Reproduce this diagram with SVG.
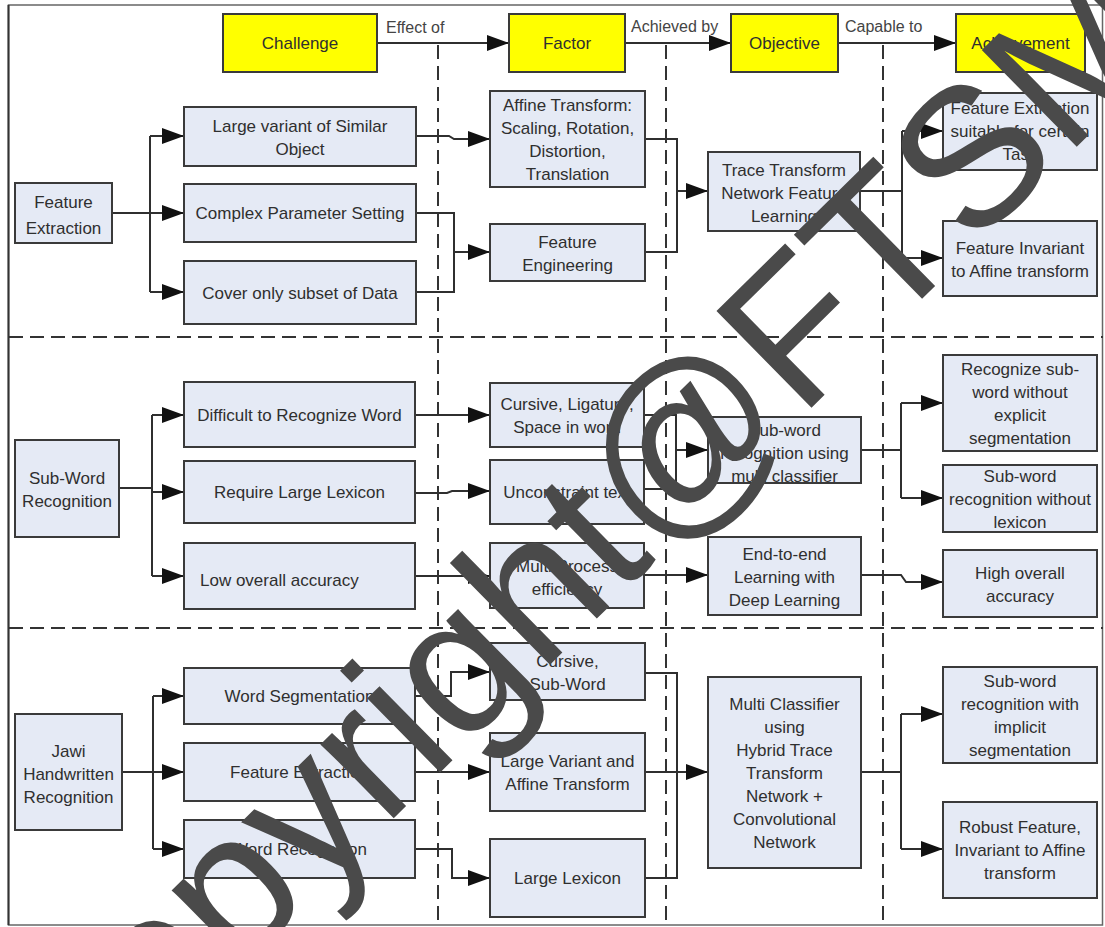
<svg xmlns="http://www.w3.org/2000/svg" width="1105" height="927" viewBox="0 0 1105 927">
<defs>
<style>
.box{fill:#e5eaf5;stroke:#3a3a3a;stroke-width:2}
.hdr{fill:#ffff00;stroke:#3a3a3a;stroke-width:2}
.t{font-family:"Liberation Sans",Arial,sans-serif;font-size:17px;fill:#2f2f2f;text-anchor:middle}
.lbl{font-family:"Liberation Sans",Arial,sans-serif;font-size:16px;fill:#444}
.c{fill:none;stroke:#2f2f2f;stroke-width:2}
.dash{fill:none;stroke:#333;stroke-width:2;stroke-dasharray:14 7}
.wm{font-family:"Liberation Sans",Arial,sans-serif;font-size:197px;fill:#4a4a4a}
</style>
<marker id="ah" markerUnits="userSpaceOnUse" markerWidth="22" markerHeight="16" refX="22" refY="8" orient="auto">
<path d="M0,0 L22,8 L0,16 z" fill="#111"/>
</marker>
</defs>
<rect x="0" y="0" width="1105" height="927" fill="#fff"/>
<rect x="8.5" y="5" width="1094" height="920" fill="none" stroke="#666" stroke-width="1.5"/>
<line x1="8.5" y1="5" x2="8.5" y2="925" stroke="#333" stroke-width="2"/>

<g id="separators">
<line class="dash" x1="438" y1="45" x2="438" y2="925"/>
<line class="dash" x1="666" y1="45" x2="666" y2="925"/>
<line class="dash" x1="883" y1="45" x2="883" y2="925"/>
<line class="dash" x1="9" y1="337" x2="1103" y2="337"/>
<line class="dash" x1="9" y1="628" x2="1103" y2="628"/>
</g>

<g id="connectors">
<line class="c" x1="377" y1="43" x2="509" y2="43" marker-end="url(#ah)"/>
<line class="c" x1="625" y1="43" x2="731" y2="43" marker-end="url(#ah)"/>
<line class="c" x1="838" y1="43" x2="956" y2="43" marker-end="url(#ah)"/>
<text class="lbl" x="386" y="33">Effect of</text>
<text class="lbl" x="631" y="32">Achieved by</text>
<text class="lbl" x="845" y="32">Capable to</text>

<path class="c" d="M112,213 H150 M150,136 V292"/>
<line class="c" x1="150" y1="136" x2="184" y2="136" marker-end="url(#ah)"/>
<line class="c" x1="150" y1="213" x2="184" y2="213" marker-end="url(#ah)"/>
<line class="c" x1="150" y1="292" x2="184" y2="292" marker-end="url(#ah)"/>
<path class="c" d="M416,136 H449 L454,139 H490" marker-end="url(#ah)"/>
<path class="c" d="M416,213 H454 V292 H416"/>
<line class="c" x1="454" y1="252" x2="490" y2="252" marker-end="url(#ah)"/>
<path class="c" d="M645,139 H677 V252 H645"/>
<line class="c" x1="677" y1="191" x2="708" y2="191" marker-end="url(#ah)"/>
<path class="c" d="M860,191 H902 M902,131 V258"/>
<line class="c" x1="902" y1="131" x2="943" y2="131" marker-end="url(#ah)"/>
<line class="c" x1="902" y1="258" x2="943" y2="258" marker-end="url(#ah)"/>

<path class="c" d="M119,488 H152 M152,415 V576"/>
<line class="c" x1="152" y1="415" x2="184" y2="415" marker-end="url(#ah)"/>
<line class="c" x1="152" y1="492" x2="184" y2="492" marker-end="url(#ah)"/>
<line class="c" x1="152" y1="576" x2="184" y2="576" marker-end="url(#ah)"/>
<line class="c" x1="415" y1="415" x2="490" y2="415" marker-end="url(#ah)"/>
<path class="c" d="M415,493 H447 L452,491 H490" marker-end="url(#ah)"/>
<line class="c" x1="415" y1="576" x2="490" y2="576" marker-end="url(#ah)"/>
<path class="c" d="M644,415 H676 V489 H644"/>
<line class="c" x1="676" y1="450" x2="708" y2="450" marker-end="url(#ah)"/>
<line class="c" x1="644" y1="575" x2="708" y2="575" marker-end="url(#ah)"/>
<path class="c" d="M861,450 H901 M901,403 V498"/>
<line class="c" x1="901" y1="403" x2="943" y2="403" marker-end="url(#ah)"/>
<line class="c" x1="901" y1="498" x2="943" y2="498" marker-end="url(#ah)"/>
<path class="c" d="M861,575 H901 L906,582 H943" marker-end="url(#ah)"/>

<path class="c" d="M122,772 H153 M153,696 V849"/>
<line class="c" x1="153" y1="696" x2="184" y2="696" marker-end="url(#ah)"/>
<line class="c" x1="153" y1="772" x2="184" y2="772" marker-end="url(#ah)"/>
<line class="c" x1="153" y1="849" x2="184" y2="849" marker-end="url(#ah)"/>
<path class="c" d="M415,696 H451 V672 H490" marker-end="url(#ah)"/>
<line class="c" x1="415" y1="772" x2="490" y2="772" marker-end="url(#ah)"/>
<path class="c" d="M415,849 H452 V878 H490" marker-end="url(#ah)"/>
<path class="c" d="M645,673 H677 V878 H645 M645,772 H677"/>
<line class="c" x1="677" y1="772" x2="708" y2="772" marker-end="url(#ah)"/>
<path class="c" d="M861,772 H901 M901,714 V849"/>
<line class="c" x1="901" y1="714" x2="943" y2="714" marker-end="url(#ah)"/>
<line class="c" x1="901" y1="849" x2="943" y2="849" marker-end="url(#ah)"/>
</g>

<g id="h-challenge"><rect class="hdr" x="223" y="14" width="154" height="58"/><text class="t" x="300" y="49">Challenge</text></g>
<g id="h-factor"><rect class="hdr" x="509" y="14" width="116" height="58"/><text class="t" x="567" y="49">Factor</text></g>
<g id="h-objective"><rect class="hdr" x="731" y="14" width="107" height="58"/><text class="t" x="784.5" y="49">Objective</text></g>
<g id="h-achievement"><rect class="hdr" x="956" y="14" width="129" height="58"/><text class="t" x="1020.5" y="49">Achievement</text></g>

<g id="n-feature-extraction"><rect class="box" x="15" y="183" width="97" height="60"/><text class="t" x="63.5" y="208">Feature</text><text class="t" x="63.5" y="234">Extraction</text></g>
<g id="n-large-variant"><rect class="box" x="184" y="107" width="232" height="59"/><text class="t" x="300" y="132">Large variant of Similar</text><text class="t" x="300" y="155">Object</text></g>
<g id="n-complex"><rect class="box" x="184" y="184" width="232" height="58"/><text class="t" x="300" y="219">Complex Parameter Setting</text></g>
<g id="n-cover"><rect class="box" x="184" y="261" width="232" height="63"/><text class="t" x="300" y="299">Cover only subset of Data</text></g>
<g id="n-affine"><rect class="box" x="490" y="91" width="155" height="96"/><text class="t" x="567.5" y="111">Affine Transform:</text><text class="t" x="567.5" y="134">Scaling, Rotation,</text><text class="t" x="567.5" y="157">Distortion,</text><text class="t" x="567.5" y="180">Translation</text></g>
<g id="n-feature-eng"><rect class="box" x="490" y="224" width="155" height="57"/><text class="t" x="567.5" y="248">Feature</text><text class="t" x="567.5" y="271">Engineering</text></g>
<g id="n-trace"><rect class="box" x="708" y="152" width="152" height="79"/><text class="t" x="784" y="176">Trace Transform</text><text class="t" x="784" y="199">Network Feature</text><text class="t" x="784" y="222">Learning</text></g>
<g id="n-fe-suitable"><rect class="box" x="943" y="93" width="154" height="77"/><text class="t" x="1020" y="114">Feature Extraction</text><text class="t" x="1020" y="137">suitable for certain</text><text class="t" x="1020" y="160">Task</text></g>
<g id="n-fe-invariant"><rect class="box" x="943" y="221" width="154" height="75"/><text class="t" x="1020" y="254">Feature Invariant</text><text class="t" x="1020" y="277">to Affine transform</text></g>

<g id="n-subword-rec"><rect class="box" x="15" y="440" width="104" height="97"/><text class="t" x="67" y="484">Sub-Word</text><text class="t" x="67" y="507">Recognition</text></g>
<g id="n-difficult"><rect class="box" x="184" y="382" width="231" height="65"/><text class="t" x="299.5" y="421">Difficult to Recognize Word</text></g>
<g id="n-require"><rect class="box" x="184" y="461" width="231" height="62"/><text class="t" x="299.5" y="498">Require Large Lexicon</text></g>
<g id="n-low"><rect class="box" x="184" y="543" width="231" height="66"/><text class="t" x="200" y="586" style="text-anchor:start">Low overall accuracy</text></g>
<g id="n-cursive-lig"><rect class="box" x="490" y="383" width="154" height="64"/><text class="t" x="567" y="410">Cursive, Ligature,</text><text class="t" x="567" y="433">Space in word</text></g>
<g id="n-unconstraint"><rect class="box" x="490" y="460" width="154" height="64"/><text class="t" x="567" y="498">Unconstraint text</text></g>
<g id="n-multi-process"><rect class="box" x="490" y="543" width="154" height="65"/><text class="t" x="567" y="572">Multi Process</text><text class="t" x="567" y="595">efficiency</text></g>
<g id="n-subword-multi"><rect class="box" x="708" y="417" width="153" height="66"/><text class="t" x="784.5" y="436">Sub-word</text><text class="t" x="784.5" y="459">recognition using</text><text class="t" x="784.5" y="482">multi classifier</text></g>
<g id="n-end-to-end"><rect class="box" x="708" y="537" width="153" height="78"/><text class="t" x="784.5" y="560">End-to-end</text><text class="t" x="784.5" y="583">Learning with</text><text class="t" x="784.5" y="606">Deep Learning</text></g>
<g id="n-recognize-sub"><rect class="box" x="943" y="355" width="154" height="96"/><text class="t" x="1020" y="375">Recognize sub-</text><text class="t" x="1020" y="398">word without</text><text class="t" x="1020" y="421">explicit</text><text class="t" x="1020" y="444">segmentation</text></g>
<g id="n-subword-nolex"><rect class="box" x="943" y="465" width="154" height="67"/><text class="t" x="1020" y="482">Sub-word</text><text class="t" x="1020" y="505">recognition without</text><text class="t" x="1020" y="528">lexicon</text></g>
<g id="n-high"><rect class="box" x="943" y="550" width="154" height="67"/><text class="t" x="1020" y="579">High overall</text><text class="t" x="1020" y="602">accuracy</text></g>

<g id="n-jawi"><rect class="box" x="15" y="714" width="107" height="116"/><text class="t" x="68.5" y="757">Jawi</text><text class="t" x="68.5" y="780">Handwritten</text><text class="t" x="68.5" y="803">Recognition</text></g>
<g id="n-word-seg"><rect class="box" x="184" y="668" width="231" height="56"/><text class="t" x="299.5" y="702">Word Segmentation</text></g>
<g id="n-feat-ext2"><rect class="box" x="184" y="743" width="231" height="58"/><text class="t" x="299.5" y="778">Feature Extraction</text></g>
<g id="n-word-rec"><rect class="box" x="184" y="820" width="231" height="58"/><text class="t" x="299.5" y="855">Word Recognition</text></g>
<g id="n-cursive-sub"><rect class="box" x="490" y="643" width="155" height="57"/><text class="t" x="567.5" y="667">Cursive,</text><text class="t" x="567.5" y="690">Sub-Word</text></g>
<g id="n-large-var2"><rect class="box" x="490" y="733" width="155" height="78"/><text class="t" x="567.5" y="767">Large Variant and</text><text class="t" x="567.5" y="790">Affine Transform</text></g>
<g id="n-large-lex"><rect class="box" x="490" y="839" width="155" height="78"/><text class="t" x="567.5" y="884">Large Lexicon</text></g>
<g id="n-multi-classifier"><rect class="box" x="708" y="677" width="153" height="191"/><text class="t" x="784.5" y="710">Multi Classifier</text><text class="t" x="784.5" y="733">using</text><text class="t" x="784.5" y="756">Hybrid Trace</text><text class="t" x="784.5" y="779">Transform</text><text class="t" x="784.5" y="802">Network +</text><text class="t" x="784.5" y="825">Convolutional</text><text class="t" x="784.5" y="848">Network</text></g>
<g id="n-subword-implicit"><rect class="box" x="943" y="667" width="154" height="96"/><text class="t" x="1020" y="687">Sub-word</text><text class="t" x="1020" y="710">recognition with</text><text class="t" x="1020" y="733">implicit</text><text class="t" x="1020" y="756">segmentation</text></g>
<g id="n-robust"><rect class="box" x="943" y="802" width="154" height="96"/><text class="t" x="1020" y="833">Robust Feature,</text><text class="t" x="1020" y="856">Invariant to Affine</text><text class="t" x="1020" y="879">transform</text></g>

<g id="watermark"><text class="wm" x="56" y="1150" transform="rotate(-44.5 56 1150)">Copyright@FTSM</text></g>
</svg>
